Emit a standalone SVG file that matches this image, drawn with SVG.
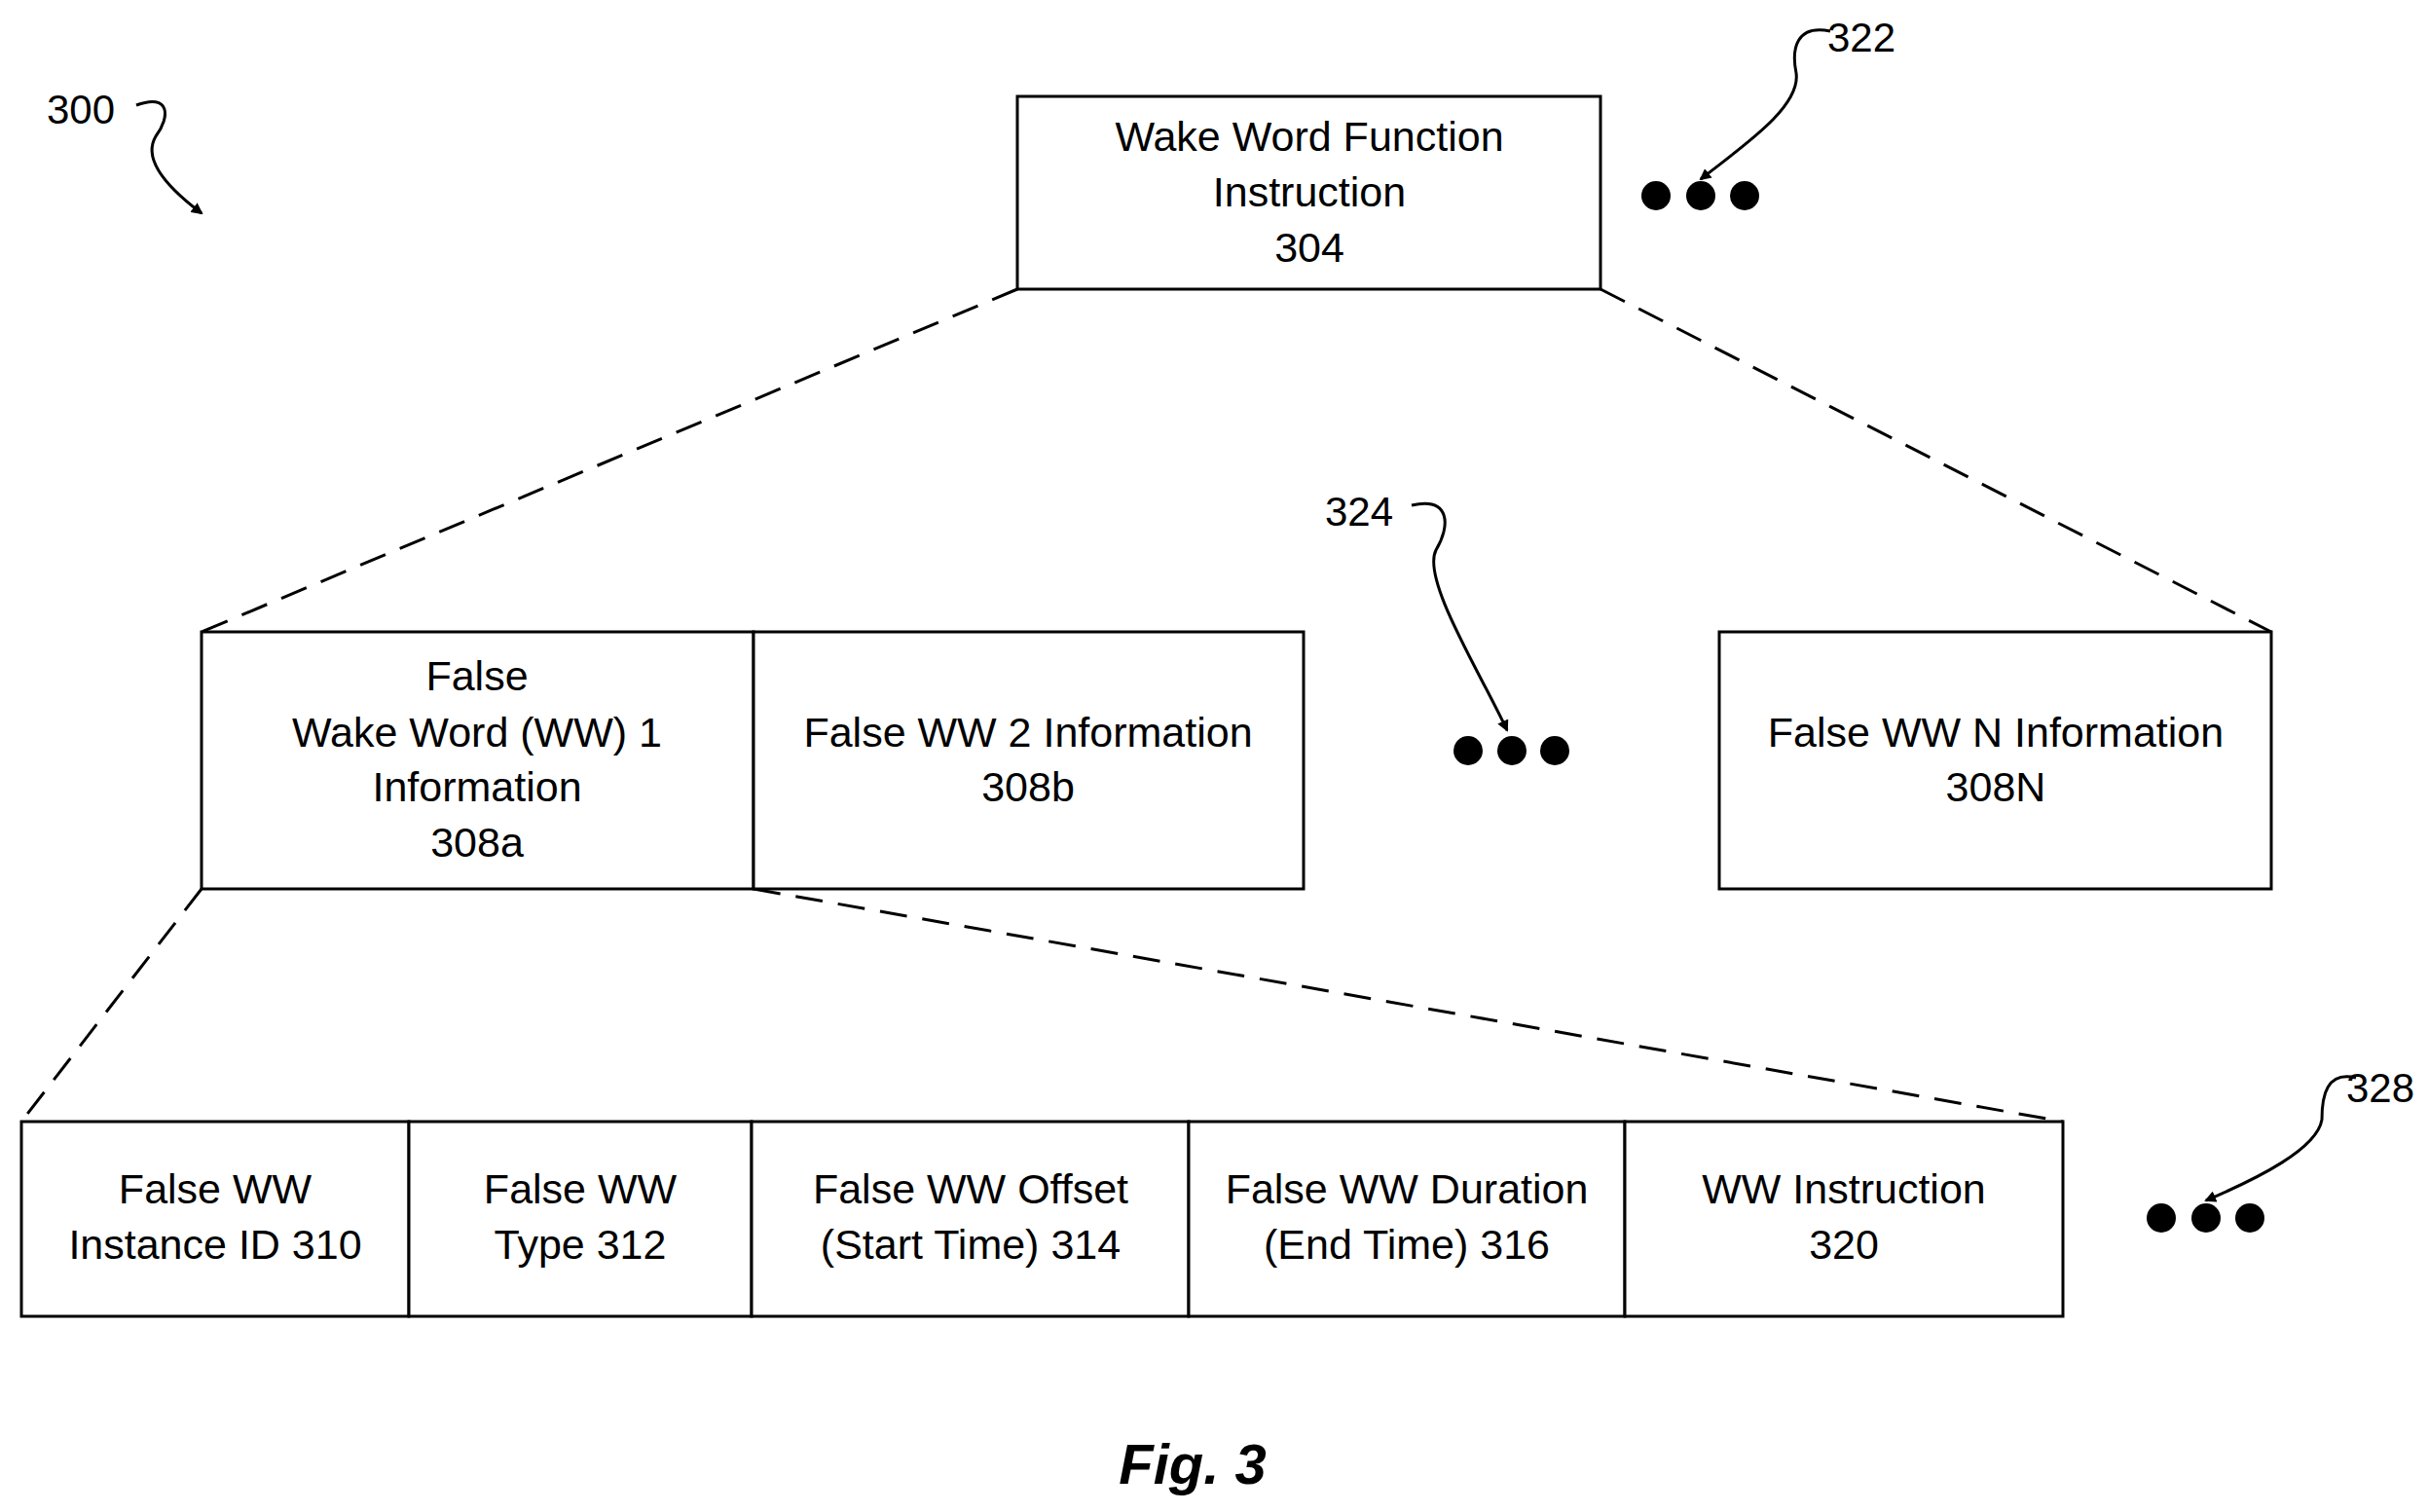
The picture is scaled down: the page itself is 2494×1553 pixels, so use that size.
<svg xmlns="http://www.w3.org/2000/svg" width="2494" height="1553" viewBox="0 0 2494 1553">
<defs>
<style>
.b{fill:#fff;stroke:#000;stroke-width:3}
.t{font-family:"Liberation Sans",Arial,sans-serif;font-size:43px;text-anchor:middle;dominant-baseline:central;fill:#000}
.l{font-family:"Liberation Sans",Arial,sans-serif;font-size:42px;text-anchor:middle;dominant-baseline:central;fill:#000}
.d{stroke:#000;stroke-width:3;stroke-dasharray:28,16;fill:none}
.a{stroke:#000;stroke-width:3;fill:none;marker-end:url(#ah)}
</style>
<marker id="ah" markerWidth="12" markerHeight="12" refX="10" refY="6" orient="auto" markerUnits="userSpaceOnUse" viewBox="0 0 12 12"><path d="M0,0 L12,6 L0,12 z" fill="#000" transform="scale(1)"/></marker>
</defs>
<rect width="2494" height="1553" fill="#fff"/>
<g id="connectors">
<line class="d" x1="1045" y1="297" x2="207" y2="649"/>
<line class="d" x1="1644" y1="297" x2="2333" y2="649"/>
<line class="d" x1="207" y1="913" x2="22" y2="1152"/>
<line class="d" x1="774" y1="913" x2="2119" y2="1152"/>
<path class="a" d="M140,108 C175,95 175,120 160,140 C145,165 175,195 207,219"/>
<path class="a" d="M1880,32 C1845,25 1840,50 1845,75 C1850,110 1790,150 1747,184"/>
<path class="a" d="M1450,519 C1490,510 1490,540 1475,565 C1460,595 1520,690 1548,750"/>
<path class="a" d="M2420,1107 C2390,1100 2385,1125 2385,1150 C2380,1180 2320,1210 2266,1233"/>
</g>
<g id="n304"><rect class="b" x="1045" y="99" width="599" height="198"/>
<text class="t" x="1345" y="140">Wake Word Function</text><text class="t" x="1345" y="197">Instruction</text><text class="t" x="1345" y="254">304</text></g>
<g id="n308a"><rect class="b" x="207" y="649" width="567" height="264"/>
<text class="t" x="490" y="694">False</text><text class="t" x="490" y="752">Wake Word (WW) 1</text><text class="t" x="490" y="808">Information</text><text class="t" x="490" y="865">308a</text></g>
<g id="n308b"><rect class="b" x="774" y="649" width="565" height="264"/>
<text class="t" x="1056" y="752">False WW 2 Information</text><text class="t" x="1056" y="808">308b</text></g>
<g id="n308N"><rect class="b" x="1766" y="649" width="567" height="264"/>
<text class="t" x="2050" y="752">False WW N Information</text><text class="t" x="2050" y="808">308N</text></g>
<g id="n310"><rect class="b" x="22" y="1152" width="398" height="200"/>
<text class="t" x="221" y="1221">False WW</text><text class="t" x="221" y="1278">Instance ID 310</text></g>
<g id="n312"><rect class="b" x="420" y="1152" width="352" height="200"/>
<text class="t" x="596" y="1221">False WW</text><text class="t" x="596" y="1278">Type 312</text></g>
<g id="n314"><rect class="b" x="772" y="1152" width="449" height="200"/>
<text class="t" x="997" y="1221">False WW Offset</text><text class="t" x="997" y="1278">(Start Time) 314</text></g>
<g id="n316"><rect class="b" x="1221" y="1152" width="448" height="200"/>
<text class="t" x="1445" y="1221">False WW Duration</text><text class="t" x="1445" y="1278">(End Time) 316</text></g>
<g id="n320"><rect class="b" x="1669" y="1152" width="450" height="200"/>
<text class="t" x="1894" y="1221">WW Instruction</text><text class="t" x="1894" y="1278">320</text></g>
<g id="dots">
<circle cx="1701" cy="201" r="15"/><circle cx="1747" cy="201" r="15"/><circle cx="1792" cy="201" r="15"/>
<circle cx="1508" cy="771" r="15"/><circle cx="1553" cy="771" r="15"/><circle cx="1597" cy="771" r="15"/>
<circle cx="2220" cy="1251" r="15"/><circle cx="2266" cy="1251" r="15"/><circle cx="2311" cy="1251" r="15"/>
</g>
<g id="labels">
<text class="l" x="83" y="112">300</text>
<text class="l" x="1912" y="38">322</text>
<text class="l" x="1396" y="525">324</text>
<text class="l" x="2445" y="1117">328</text>
<text x="1225" y="1503" style="font-family:'Liberation Sans',Arial,sans-serif;font-size:58px;font-weight:bold;font-style:italic;text-anchor:middle;dominant-baseline:central">Fig. 3</text>
</g>
</svg>
